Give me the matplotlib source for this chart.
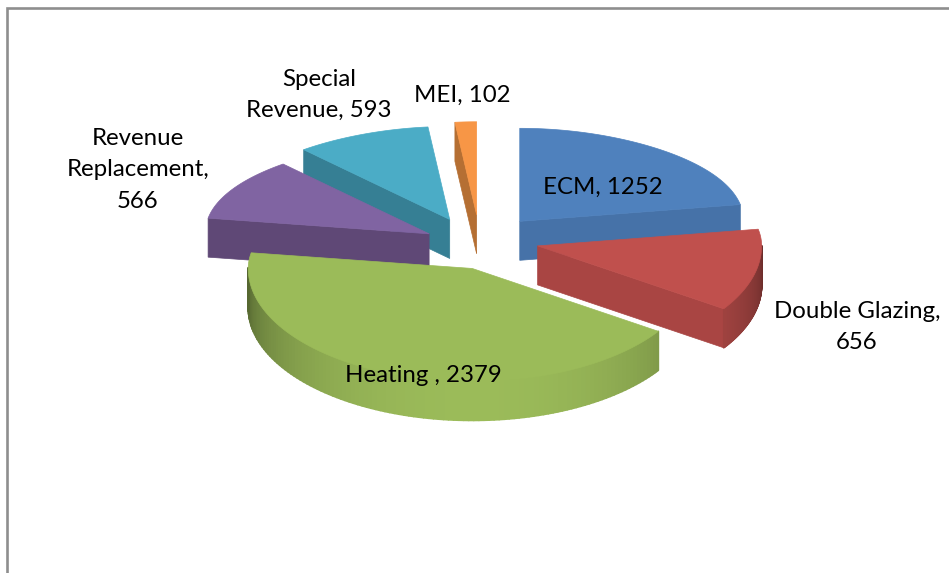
import numpy as np
import matplotlib
matplotlib.use("Agg")
import matplotlib.pyplot as plt
from matplotlib.collections import PolyCollection
from matplotlib.colors import to_rgb

# chart data
names = ["ECM", "Double Glazing", "Heating ", "Revenue Replacement", "Special Revenue", "MEI"]
values = [1252, 656, 2379, 566, 593, 102]

# look of the slices
top_colors = ["#4F81BD", "#C0504D", "#9BBB59", "#8064A2", "#4BACC6", "#F79646"]
face_colors = ["#4672A8", "#A94543", "#7F9A48", "#5F4876", "#367F94", "#B56F33"]
draw_order = [4, 5, 0, 3, 1, 2]

# 3d look, everything in pixels
CX, CY = 481, 241
RX, RY = 224, 113
DEPTH = 39
EXPLODE = 58
EXPLODE_Y = 0.47
shift_x = [1, 0, 12, 0, -6, -1]
shift_y = [1, -1, 2, 5, 3, 1]

# centre position of the labels
label_x = [603, 857, 423, 138, 319, 462]
label_y = [187, 327, 375, 170, 95, 95]


def make_label(name, value):
    text = "{}, {}".format(name, value)
    text = text.replace("Double Glazing, ", "Double Glazing,\n")
    text = text.replace("Revenue Replacement, ", "Revenue\nReplacement,\n")
    text = text.replace("Special Revenue", "Special\nRevenue")
    return text


def project(ax_, ay_, theta, r=1.0):
    d = r * np.cos(theta)
    back = np.maximum(d, 0)
    x = ax_ + RX * r * np.sin(theta) * (1 - 0.16 * back ** 2)
    y = ay_ - (RY * d - 20 * back ** 2)
    return x, y


def darker(color, f):
    return tuple(c * f for c in to_rgb(color))


fig = plt.figure(figsize=(9.49, 5.73), dpi=100)
ax = fig.add_axes([0, 0, 1, 1])
ax.set_xlim(0, 949)
ax.set_ylim(573, 0)
ax.axis("off")

# frame of the chart area, only left and top are in the crop
ax.plot([7.5, 7.5, 949], [573, 7.5, 7.5], color="#8E8E8E", lw=1.9, solid_joinstyle="miter")

fractions = np.array(values) / sum(values)
ends = np.cumsum(fractions) * 2 * np.pi
starts = ends - fractions * 2 * np.pi

z = 2
for i in draw_order:
    start, end = starts[i], ends[i]
    mid = (start + end) / 2
    ax_ = CX + EXPLODE * np.sin(mid) + shift_x[i]
    ay_ = CY - EXPLODE * EXPLODE_Y * np.cos(mid) + shift_y[i]
    t = np.linspace(start, end, 120)
    xs, ys = project(ax_, ay_, t)

    # cut faces which look at the viewer
    for angle, visible in [(start, np.sin(start) < 0), (end, np.sin(end) > 0)]:
        if visible:
            ex, ey = project(ax_, ay_, angle)
            ax.fill([ax_, ex, ex, ax_], [ay_, ey, ey + DEPTH, ay_ + DEPTH],
                    color=face_colors[i], lw=0.5, zorder=z)

    # outer rim with the shading going dark to the sides
    rim = []
    shades = []
    for a, b in zip(t[:-1], t[1:]):
        if np.cos((a + b) / 2) > 0:
            continue
        x1, y1 = project(ax_, ay_, a)
        x2, y2 = project(ax_, ay_, b)
        rim.append([(x1, y1), (x2, y2), (x2, y2 + DEPTH), (x1, y1 + DEPTH)])
        off = abs(np.degrees((a + b) / 2) - 180) / 90
        shades.append(darker(top_colors[i], 1 - 0.45 * off ** 2))
    if rim:
        ax.add_collection(PolyCollection(rim, facecolors=shades, edgecolors=shades,
                                         linewidths=1.2, zorder=z))

    ax.fill(np.r_[ax_, xs], np.r_[ay_, ys], color=top_colors[i], lw=0.5, zorder=z + 0.5)
    z += 1

for i in range(len(names)):
    ax.text(label_x[i], label_y[i], make_label(names[i], values[i]), ha="center", va="center",
            multialignment="center", family="Lato", fontsize=17.3, color="black",
            linespacing=1.6, zorder=20)

fig.savefig("out.png", dpi=100)
